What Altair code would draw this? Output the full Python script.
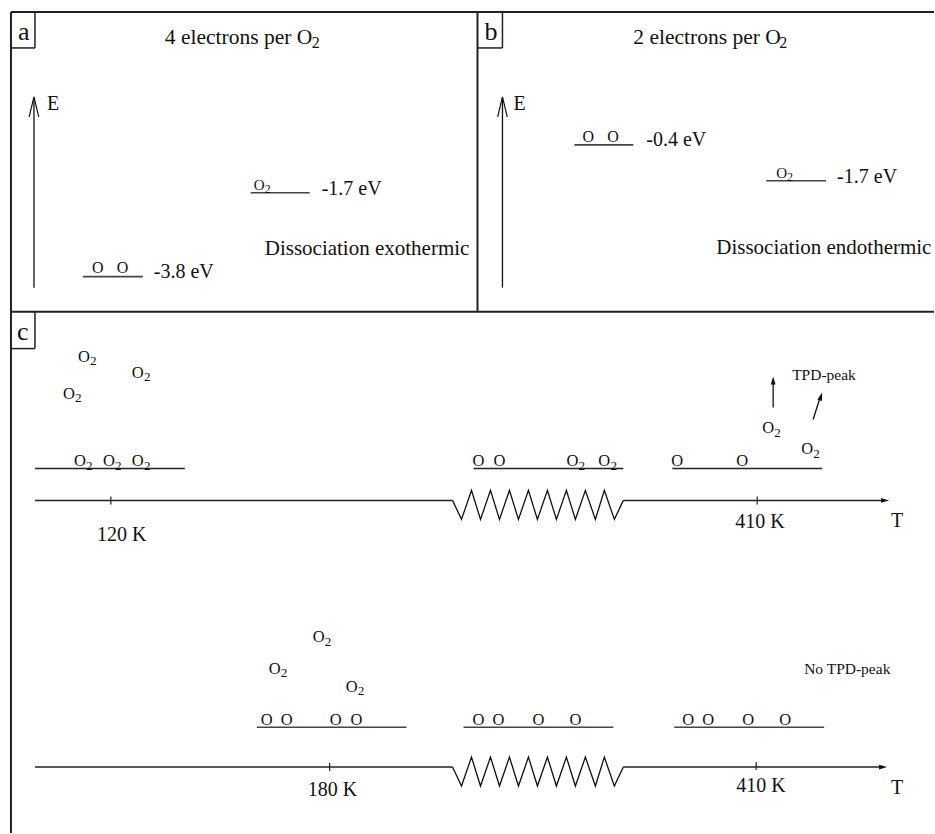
import altair as alt
import pandas as pd

W, H = 935, 834
FONT = "Liberation Serif"

# ---------------- content (labels) ----------------
panel_letters = ["a", "b", "c"]
panel_titles = ["4 electrons per O", "2 electrons per O"]
level_labels_a = ["-1.7 eV", "-3.8 eV"]
level_labels_b = ["-0.4 eV", "-1.7 eV"]
dissociation_labels = ["Dissociation exothermic", "Dissociation endothermic"]
temp_labels_top = ["120 K", "410 K"]
temp_labels_bottom = ["180 K", "410 K"]
tpd_labels = ["TPD-peak", "No TPD-peak"]

# ---------------- diagram layout (diagram coordinates, y downwards) ----------------
# plain texts: (text, x_left, y_baseline, font size)
texts = [
    (panel_letters[0], 18, 40, 26),
    (panel_letters[1], 485, 40, 26),
    (panel_letters[2], 17, 340, 26),
    (panel_titles[0], 165, 44, 21.5), ("2", 312, 48, 16),
    (panel_titles[1], 634, 44, 21.5), ("2", 780, 48, 16),
    ("E", 47, 110, 20), ("E", 514, 110, 20),
    (level_labels_a[0], 322, 195, 20),
    (level_labels_a[1], 154, 278, 20),
    (dissociation_labels[0], 265, 255, 21),
    (level_labels_b[0], 647, 146, 20),
    (level_labels_b[1], 838, 183, 20),
    (dissociation_labels[1], 717, 254, 21),
    (temp_labels_top[0], 97, 542, 20),
    (temp_labels_top[1], 736, 529, 20),
    ("T", 892, 528, 20),
    (tpd_labels[0], 793, 380, 15.5),
    (temp_labels_bottom[0], 308, 797, 20),
    (temp_labels_bottom[1], 737, 793, 20),
    ("T", 892, 795, 20),
    (tpd_labels[1], 805, 675, 15.5),
]

# atoms / molecules: (species, x_left, y_baseline, font size)
species = [
    # panel a / b levels
    ("O2", 254, 190, 15), ("O", 92, 273, 16), ("O", 117, 273, 16),
    ("O", 583, 142, 16), ("O", 608, 142, 16), ("O2", 777, 178, 15),
    # panel c, top row
    ("O2", 78, 362, 16.5), ("O2", 132, 378, 16.5), ("O2", 63, 399, 16.5),
    ("O2", 74, 467, 16.5), ("O2", 103, 467, 16.5), ("O2", 132, 467, 16.5),
    ("O", 473, 467, 16.5), ("O", 494, 467, 16.5), ("O2", 567, 467, 16.5), ("O2", 599, 467, 16.5),
    ("O", 672, 467, 16.5), ("O", 737, 467, 16.5), ("O2", 763, 434, 16.5), ("O2", 802, 455, 16.5),
    # panel c, bottom row
    ("O2", 313, 643, 16.5), ("O2", 269, 675, 16.5), ("O2", 346, 693, 16.5),
    ("O", 261, 726, 16.5), ("O", 281, 726, 16.5), ("O", 330, 726, 16.5), ("O", 351, 726, 16.5),
    ("O", 473, 726, 16.5), ("O", 493, 726, 16.5), ("O", 533, 726, 16.5), ("O", 570, 726, 16.5),
    ("O", 683, 726, 16.5), ("O", 703, 726, 16.5), ("O", 743, 726, 16.5), ("O", 780, 726, 16.5),
]

# straight segments: (x, y, x2, y2, stroke width, colour)
segments = [
    # frames
    (11, 12, 935, 12, 2, "#222"), (11, 12, 11, 834, 2, "#222"),
    (478, 12, 478, 312, 2, "#222"), (11, 312, 935, 312, 2, "#222"),
    (35, 12, 35, 48, 1.5, "#222"), (11, 48, 35, 48, 1.5, "#222"),
    (503, 12, 503, 48, 1.5, "#222"), (478, 48, 503, 48, 1.5, "#222"),
    (35, 312, 35, 349, 1.5, "#222"), (11, 349, 35, 349, 1.5, "#222"),
    # energy axes
    (34, 98, 34, 288, 1.3, "#111"), (503, 98, 503, 288, 1.3, "#111"),
    # energy levels
    (251, 193, 310, 193, 1.6, "#444"), (83, 277, 143, 277, 1.6, "#444"),
    (575, 145, 634, 145, 1.6, "#444"), (767, 181, 827, 181, 1.6, "#444"),
    # surfaces in panel c
    (35, 469, 185, 469, 1.5, "#222"), (474, 469, 624, 469, 1.5, "#222"), (673, 469, 823, 469, 1.5, "#222"),
    (257, 728, 407, 728, 1.5, "#444"), (464, 728, 614, 728, 1.5, "#444"), (675, 728, 825, 728, 1.5, "#444"),
    # temperature axes
    (35, 501, 453, 501, 1.5, "#222"), (624, 501, 884, 501, 1.5, "#222"),
    (35, 768, 453, 768, 1.5, "#222"), (624, 768, 882, 768, 1.5, "#222"),
    # ticks
    (111, 497, 111, 505, 1.2, "#222"), (758, 497, 758, 505, 1.2, "#222"),
    (330, 764, 330, 772, 1.2, "#222"), (757, 763, 757, 771, 1.2, "#222"),
    # desorption arrows
    (774, 408, 774, 383, 1.3, "#111"), (814, 420, 821, 398, 1.3, "#111"),
]

# zig-zag axis breaks: vertex x positions and the y of axis / valley / peak for each row
zig_x = [453, 462, 472, 481, 491, 500, 510, 519, 529, 538, 548, 557, 567, 576, 586, 596, 605, 615, 624]
zig_rows = {"top": (501, 520, 491), "bottom": (768, 787, 758)}

# arrow heads: (tip x, tip y, rotation deg clockwise from "up", length px, kind)
heads = [
    (890, 501, 90, 8, "filled"), (888, 768, 90, 8, "filled"),
    (774, 377, 0, 8, "filled"), (823, 393, 18, 8, "filled"),
    (34, 97, 0, 20, "open"), (503, 97, 0, 20, "open"),
]

# ---------------- build tables ----------------
text_rows = [dict(t=t, x=x, y=y, s=s) for t, x, y, s in texts]
for sp, x, y, s in species:
    text_rows.append(dict(t="O", x=x, y=y, s=s))
    if sp == "O2":
        text_rows.append(dict(t="2", x=x + 0.73 * s, y=y + 0.2 * s, s=round(s * 0.8, 1)))
text_df = pd.DataFrame(text_rows)

seg_df = pd.DataFrame(segments, columns=["x", "y", "x2", "y2", "w", "c"])

zig_rows_list = []
for row, (ya, yv, yp) in zig_rows.items():
    n = len(zig_x)
    for i, xv in enumerate(zig_x):
        if i == 0 or i == n - 1:
            yy = ya
        elif i % 2 == 1:
            yy = yv
        else:
            yy = yp
        zig_rows_list.append(dict(row=row, i=i, x=xv, y=yy))
zig_df = pd.DataFrame(zig_rows_list)

FILLED_PATH = "M0,0 L-0.3,1 L0.3,1 Z"
OPEN_PATH = "M-0.24,1 L0,0 L0.24,1"
head_df = pd.DataFrame(
    [dict(x=x, y=y, a=a, size=(2 * L) ** 2, kind=k) for x, y, a, L, k in heads]
)

xs = alt.Scale(domain=[0, W], nice=False, zero=False)
ys = alt.Scale(domain=[0, H], nice=False, zero=False, reverse=True)
X = lambda f="x": alt.X(f"{f}:Q", scale=xs, axis=None)
Y = lambda f="y": alt.Y(f"{f}:Q", scale=ys, axis=None)

rules = alt.Chart(seg_df).mark_rule().encode(
    x=X(), y=Y(), x2="x2:Q", y2="y2:Q",
    size=alt.Size("w:Q", scale=None, legend=None),
    color=alt.Color("c:N", scale=None, legend=None),
)

zig = alt.Chart(zig_df).mark_line(color="#111", strokeWidth=1.3, strokeJoin="miter").encode(
    x=X(), y=Y(), detail="row:N", order="i:Q"
)

filled_heads = alt.Chart(head_df[head_df.kind == "filled"]).mark_point(
    shape=FILLED_PATH, filled=True, color="#111", opacity=1
).encode(
    x=X(), y=Y(),
    angle=alt.Angle("a:Q", scale=None),
    size=alt.Size("size:Q", scale=None, legend=None),
)

open_heads = alt.Chart(head_df[head_df.kind == "open"]).mark_point(
    shape=OPEN_PATH, filled=False, color="#111", strokeWidth=1.2, opacity=1
).encode(
    x=X(), y=Y(),
    angle=alt.Angle("a:Q", scale=None),
    size=alt.Size("size:Q", scale=None, legend=None),
)

labels = alt.Chart(text_df).mark_text(
    align="left", baseline="alphabetic", font=FONT, color="#111"
).encode(
    x=X(), y=Y(), text="t:N",
    size=alt.Size("s:Q", scale=None, legend=None),
)

chart = (
    alt.layer(rules, zig, filled_heads, open_heads, labels)
    .properties(
        width=W, height=H, padding=0, background="white",
        autosize=alt.AutoSizeParams(type="fit", contains="padding"),
    )
    .configure_view(stroke=None)
)

chart.save("out.html", embed_options={"renderer": "svg", "actions": False})
